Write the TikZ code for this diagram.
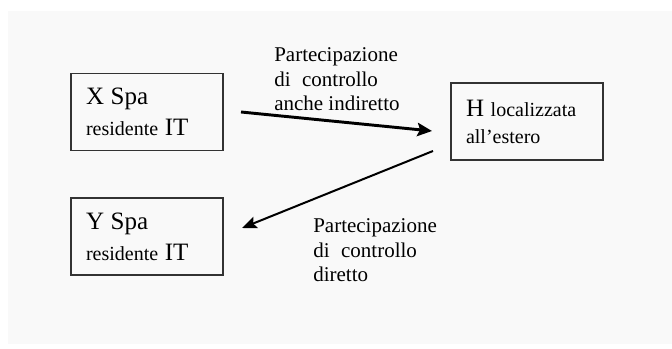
\documentclass[tikz,border=0pt]{standalone}
\usepackage{fontspec}
\setmainfont{Liberation Serif}
\usetikzlibrary{arrows.meta}

\newcommand\bigname{\fontsize{18.75}{22.5}\selectfont}

\begin{document}
\begin{tikzpicture}[x=0.75pt,y=0.75pt,yscale=-1,xscale=1,
	company/.style={draw=black!80, line width=1.1pt, minimum width=114pt, minimum height=57.75pt, text width=91.5pt, inner xsep=11.25pt, inner ysep=0pt, align=left, font=\fontsize{15}{23}\selectfont},
	partlabel/.style={anchor=base west, align=left, inner sep=0pt, font=\fontsize{15.75}{18.5}\selectfont},
	holding/.style={line width=2.2pt, -{Stealth[length=11pt,width=10pt,inset=2pt]}},
	direct/.style={line width=1.5pt, -{Stealth[length=11pt,width=9pt,inset=2pt]}}]
	%set diagram size to 672 x 349
	\useasboundingbox (0,0) rectangle (672,349);
	%Shape: Rectangle [background]
	\fill [black!2.5] (8,11) rectangle (672,344);
	
	%Shape: Rectangle [X Spa]
	\node [company] (xspa) at (147,112) {{\bigname X Spa}\\residente {\bigname IT}};
	%Shape: Rectangle [Y Spa]
	\node [company] (yspa) at (147,236.5) {{\bigname Y Spa}\\residente {\bigname IT}};
	%Shape: Rectangle [H]
	\node [company, font=\fontsize{15}{20.25}\selectfont] (hest) at (527,121.5) {{\bigname H} localizzata\\all'estero};
	
	%Straight Lines [arrow ends]
	\coordinate (xout) at (241,112);
	\coordinate (hin) at (432,131);
	\coordinate (hout) at (433,151);
	\coordinate (yin) at (242,228);
	\draw [holding] (xout) -- (hin);
	\draw [direct] (hout) -- (yin);
	
	% Text Node (anchored at the last line)
	\node [partlabel] (indir) at (274,111) {Partecipazione\\di\hspace{0.55em}controllo\\anche indiretto};
	% Text Node
	\node [partlabel] (dir) at (313,281.7) {Partecipazione\\di\hspace{0.55em}controllo\\diretto};
	
\end{tikzpicture}
\end{document}
